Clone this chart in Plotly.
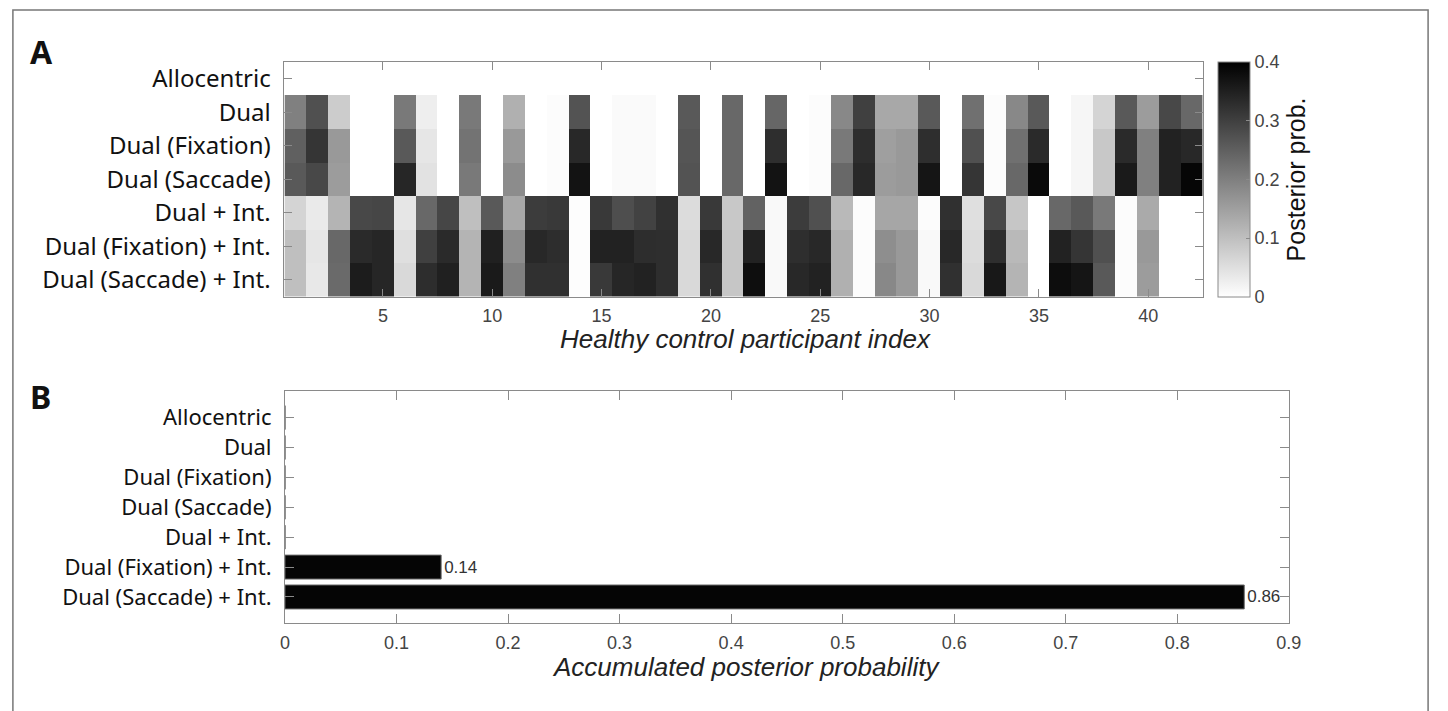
import plotly.graph_objects as go

models = ["Allocentric", "Dual", "Dual (Fixation)", "Dual (Saccade)",
          "Dual + Int.", "Dual (Fixation) + Int.", "Dual (Saccade) + Int."]
participants = list(range(1, 43))

post_allocentric = [0.0] * 42
post_dual = [0.20, 0.275, 0.08, 0, 0, 0.21, 0.027, 0, 0.21, 0, 0.124, 0, 0.005, 0.27,
             0, 0.008, 0.008, 0, 0.26, 0, 0.237, 0, 0.24, 0, 0.005, 0.187, 0.30, 0.136,
             0.136, 0.26, 0, 0.224, 0.005, 0.187, 0.26, 0, 0.014, 0.067, 0.26, 0.155, 0.287, 0.237]
post_dual_fix = [0.25, 0.317, 0.16, 0, 0, 0.26, 0.04, 0, 0.22, 0, 0.16, 0, 0.005, 0.337,
                 0, 0.008, 0.008, 0, 0.267, 0, 0.237, 0, 0.328, 0, 0.005, 0.21, 0.33, 0.15,
                 0.16, 0.328, 0, 0.275, 0.005, 0.224, 0.334, 0, 0.014, 0.086, 0.334, 0.2, 0.347, 0.337]
post_dual_sac = [0.26, 0.287, 0.155, 0, 0, 0.34, 0.045, 0, 0.21, 0, 0.18, 0, 0.005, 0.37,
                 0, 0.008, 0.008, 0, 0.27, 0, 0.237, 0, 0.37, 0, 0.005, 0.237, 0.337, 0.155,
                 0.16, 0.367, 0, 0.317, 0.005, 0.237, 0.385, 0, 0.014, 0.086, 0.36, 0.2, 0.347, 0.39]
post_dual_int = [0.067, 0.033, 0.118, 0.287, 0.29, 0.04, 0.237, 0.29, 0.10, 0.26, 0.136, 0.306, 0.31, 0.003,
                 0.31, 0.278, 0.297, 0.325, 0.055, 0.31, 0.086, 0.246, 0.01, 0.306, 0.275, 0.11, 0.005, 0.14,
                 0.14, 0.005, 0.325, 0.05, 0.287, 0.09, 0, 0.237, 0.26, 0.21, 0.005, 0.133, 0, 0]
post_dual_fix_int = [0.10, 0.04, 0.237, 0.334, 0.34, 0.05, 0.30, 0.334, 0.118, 0.35, 0.18, 0.337, 0.33, 0.003,
                     0.347, 0.347, 0.33, 0.328, 0.06, 0.337, 0.09, 0.347, 0.01, 0.328, 0.337, 0.124, 0.005, 0.177,
                     0.16, 0.01, 0.337, 0.055, 0.328, 0.11, 0, 0.347, 0.317, 0.275, 0.005, 0.16, 0, 0]
post_dual_sac_int = [0.10, 0.036, 0.233, 0.356, 0.34, 0.06, 0.33, 0.35, 0.118, 0.36, 0.20, 0.325, 0.325, 0.003,
                     0.31, 0.34, 0.347, 0.328, 0.06, 0.325, 0.09, 0.378, 0.01, 0.337, 0.347, 0.124, 0.005, 0.187,
                     0.16, 0.01, 0.325, 0.06, 0.362, 0.118, 0, 0.38, 0.367, 0.26, 0.005, 0.155, 0, 0]

accumulated = [0, 0, 0, 0, 0, 0.14, 0.86]

x_ticks_a = [5, 10, 15, 20, 25, 30, 35, 40]
x_ticks_b = [0, 0.1, 0.2, 0.3, 0.4, 0.5, 0.6, 0.7, 0.8, 0.9]
cbar_ticks = [0, 0.1, 0.2, 0.3, 0.4]

W, H = 1448, 711
def px(x):
    return x / W
def py(y):
    return 1 - y / H

z = [post_allocentric, post_dual, post_dual_fix, post_dual_sac,
     post_dual_int, post_dual_fix_int, post_dual_sac_int]
row_idx = list(range(1, len(models) + 1))

AX = "#8a8a8a"
TICKF = dict(family="Liberation Sans, Arial", size=18, color="#444")
LABF_A = dict(family="Noto Sans", size=24, color="#111")
LABF_B = dict(family="Noto Sans", size=22, color="#111")

fig = go.Figure()
fig.add_trace(go.Heatmap(
    z=z, x=participants, y=row_idx,
    colorscale=[[0, "#ffffff"], [1, "#000000"]], zmin=0, zmax=0.4,
    xaxis="x", yaxis="y", showscale=True,
    colorbar=dict(
        x=px(1228), xanchor="left", y=py(61), yanchor="top",
        len=235 / H, lenmode="fraction", thickness=32, thicknessmode="pixels",
        xpad=0, ypad=0, outlinewidth=1, outlinecolor=AX,
        tickvals=cbar_ticks, ticktext=[f"{v:g}" for v in cbar_ticks],
        ticks="inside", ticklen=4, tickcolor=AX, tickfont=TICKF,
        title=dict(text="Posterior prob.", side="right",
                   font=dict(family="Liberation Sans, Arial", size=25, color="#111")),
    ),
))

bar_text = [f"{v:.2f}" if v > 0 else "" for v in accumulated]
fig.add_trace(go.Bar(
    x=accumulated, y=row_idx, orientation="h", width=0.8,
    marker=dict(color="#050505", line=dict(color="#666", width=1)),
    text=bar_text, textposition="outside", cliponaxis=False,
    textfont=dict(family="Liberation Sans, Arial", size=17, color="#333"),
    xaxis="x2", yaxis="y2", showlegend=False,
))

common = dict(showline=True, linecolor=AX, linewidth=1, mirror="ticks",
              ticks="inside", tickcolor=AX, showgrid=False, zeroline=False)

fig.update_layout(
    width=W, height=H, margin=dict(l=0, r=0, t=0, b=0),
    paper_bgcolor="white", plot_bgcolor="white",
    xaxis=dict(domain=[px(283), px(1213)], anchor="y", range=[0.5, 42.5],
               tickvals=x_ticks_a, ticklen=8, tickfont=TICKF, ticklabelstandoff=3, **common),
    yaxis=dict(domain=[py(296), py(61)], anchor="x", range=[7.5, 0.5],
               tickvals=row_idx, ticktext=models, ticklen=8, tickfont=LABF_A,
               ticklabelstandoff=8, **common),
    xaxis2=dict(domain=[px(283.5), px(1300)], anchor="y2", range=[0, 0.9],
                tickvals=x_ticks_b, ticktext=[f"{v:g}" for v in x_ticks_b],
                ticklen=9, tickfont=TICKF, ticklabelstandoff=3, **common),
    yaxis2=dict(domain=[py(623), py(391)], anchor="x2", range=[7.875, 0.125],
                tickvals=row_idx, ticktext=models, ticklen=9, tickfont=LABF_B,
                ticklabelstandoff=8, **common),
    shapes=[dict(type="rect", xref="paper", yref="paper",
                 x0=px(8), x1=px(1441), y0=-0.05, y1=py(9),
                 line=dict(color="#777", width=1.5), layer="below")],
    annotations=[
        dict(text="<b>A</b>", x=px(23), y=py(51), xref="paper", yref="paper",
             xanchor="left", yanchor="middle", showarrow=False,
             font=dict(family="Noto Sans", size=32, color="#111")),
        dict(text="<b>B</b>", x=px(23), y=py(396), xref="paper", yref="paper",
             xanchor="left", yanchor="middle", showarrow=False,
             font=dict(family="Noto Sans", size=32, color="#111")),
        dict(text="<i>Healthy control participant index</i>", x=px(750), y=py(338),
             xref="paper", yref="paper", xanchor="center", yanchor="middle", showarrow=False,
             font=dict(family="Liberation Sans, Arial", size=26, color="#222")),
        dict(text="<i>Accumulated posterior probability</i>", x=px(750), y=py(667),
             xref="paper", yref="paper", xanchor="center", yanchor="middle", showarrow=False,
             font=dict(family="Liberation Sans, Arial", size=26, color="#222")),
    ],
)

fig.write_html("out.html", config={"displayModeBar": False},
               post_script="document.body.style.margin='0';document.body.style.overflow='hidden';")
